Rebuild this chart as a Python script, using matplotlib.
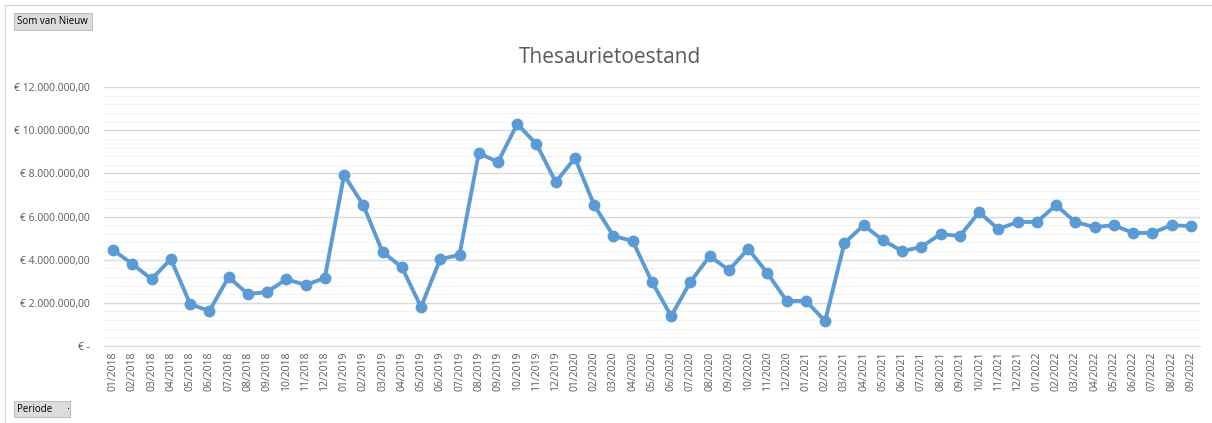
import matplotlib.pyplot as plt
from matplotlib.patches import FancyBboxPatch
from matplotlib.ticker import MultipleLocator, FuncFormatter

# Periodes (maand/jaar) en saldo in miljoenen euro's
perioden = [f"{m:02d}/{j}" for j in range(2018, 2023) for m in range(1, 13)][:57]
saldo = [4.45, 3.80, 3.10, 4.03, 1.95, 1.62, 3.20, 2.41, 2.50, 3.10, 2.83, 3.15,
         7.92, 6.53, 4.36, 3.66, 1.81, 4.03, 4.22, 8.94, 8.53, 10.29, 9.36, 7.60,
         8.71, 6.53, 5.10, 4.87, 2.97, 1.39, 2.97, 4.17, 3.52, 4.50, 3.38, 2.09,
         2.09, 1.16, 4.77, 5.60, 4.91, 4.40, 4.59, 5.19, 5.10, 6.20, 5.42, 5.75,
         5.75, 6.53, 5.75, 5.51, 5.60, 5.24, 5.24, 5.60, 5.56]
saldo = [s * 1e6 for s in saldo]

grijs = '#595959'
plt.rcParams['font.family'] = ['Open Sans', 'DejaVu Sans']

fig = plt.figure(figsize=(12.12, 4.23), dpi=100)
ax = fig.add_axes([0.0854, 0.182, 0.905, 0.612])

x = range(len(perioden))
ax.plot(x, saldo, color='#5B9BD5', lw=2.8, marker='o', ms=7.5, zorder=3)

ax.set_xlim(-0.5, len(perioden) - 0.5)
ax.set_ylim(0, 12e6)
ax.yaxis.set_major_locator(MultipleLocator(2e6))
ax.yaxis.set_minor_locator(MultipleLocator(0.4e6))


def euro(v, pos):
    if v == 0:
        return '€ -'
    return '€ ' + f"{v:,.2f}".replace(',', 'X').replace('.', ',').replace('X', '.')


ax.yaxis.set_major_formatter(FuncFormatter(euro))
ax.grid(axis='y', which='major', color='#D9D9D9', lw=1)
ax.grid(axis='y', which='minor', color='#F2F2F2', lw=0.8)
ax.set_axisbelow(True)

ax.set_xticks(list(x))
ax.set_xticklabels(perioden, rotation=90, fontsize=7.5, color=grijs)
ax.tick_params(axis='y', which='both', length=0, labelsize=7.5, labelcolor=grijs, pad=10)
ax.tick_params(axis='x', length=0, pad=4)

for s in ['top', 'right', 'left']:
    ax.spines[s].set_visible(False)
ax.spines['bottom'].set_color('#D9D9D9')

fig.text(0.503, 0.865, 'Thesaurietoestand', ha='center', va='center',
         fontsize=15, color=grijs)

# rand van de grafiek
fig.add_artist(plt.Line2D([5/1212, 1], [1 - 5/423, 1 - 5/423], color='#D9D9D9', lw=1))
fig.add_artist(plt.Line2D([5/1212, 5/1212], [0, 1 - 5/423], color='#D9D9D9', lw=1))

# knoppen van de draaigrafiek
for (x0, y0, w, h, tekst) in [(14, 13, 78, 17, 'Som van Nieuw'), (14, 401, 56, 16, 'Periode      ·')]:
    knop = FancyBboxPatch((x0/1212, 1 - (y0 + h)/423), w/1212, h/423,
                          boxstyle='square,pad=0', transform=fig.transFigure,
                          facecolor='#DCDCDC', edgecolor='#C0C0C0', lw=0.8)
    fig.add_artist(knop)
    fig.text((x0 + 3)/1212, 1 - (y0 + h/2)/423, tekst, ha='left', va='center',
             fontsize=7, color='black')

fig.savefig('out.png', dpi=100, facecolor='white')
